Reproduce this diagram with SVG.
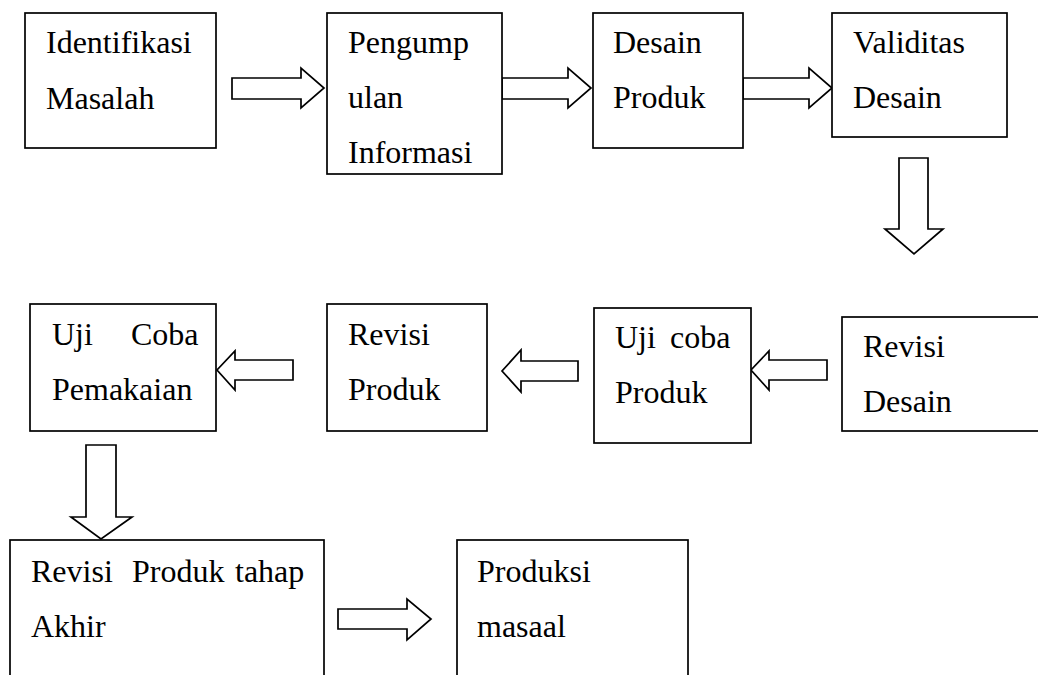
<svg xmlns="http://www.w3.org/2000/svg" width="1038" height="675" viewBox="0 0 1038 675">
<style>
.box{fill:#fff;stroke:#000;stroke-width:1.7}
.arr{fill:#fff;stroke:#000;stroke-width:1.7;stroke-linejoin:miter}
.t{font-family:'Liberation Serif','Times New Roman','DejaVu Serif',serif;font-size:32px;fill:#000}
</style>
<rect width="1038" height="675" fill="#fff"/>
<g id="connectors">
<polygon class="arr" points="232,78 301,78 301,68 324,88 301,108 301,99 232,99"/>
<polygon class="arr" points="502,78 568,78 568,68 591,88 568,108 568,99 502,99"/>
<polygon class="arr" points="743,78 809,78 809,68 832,88 809,108 809,99 743,99"/>
<polygon class="arr" points="899,158 928,158 928,229 943,229 914,254 885,229 899,229"/>
<polygon class="arr" points="827,360 827,380 769,380 769,390 751,370 769,351 769,360"/>
<polygon class="arr" points="578,361 578,381 521,381 521,392 502,371 521,350 521,361"/>
<polygon class="arr" points="293,360 293,380 235,380 235,390 217,370 235,351 235,360"/>
<polygon class="arr" points="86,445 116,445 116,517 132,517 101,539 71,517 86,517"/>
<polygon class="arr" points="338,609 407,609 407,599 431,619 407,640 407,629 338,629"/>
</g>
<g class="t" font-family="Liberation Serif, Times New Roman, serif" font-size="32">
<g id="n1"><rect class="box" x="25" y="13" width="191" height="135"/><text x="46" y="53">Identifikasi</text><text x="46" y="109">Masalah</text></g>
<g id="n2"><rect class="box" x="327" y="13" width="175" height="161"/><text x="348" y="53">Pengump</text><text x="348" y="108">ulan</text><text x="348" y="163">Informasi</text></g>
<g id="n3"><rect class="box" x="593" y="13" width="150" height="135"/><text x="613" y="53">Desain</text><text x="613" y="108">Produk</text></g>
<g id="n4"><rect class="box" x="832" y="13" width="175" height="124"/><text x="853" y="53">Validitas</text><text x="853" y="108">Desain</text></g>
<g id="n5"><rect class="box" x="842" y="317" width="200" height="114"/><text x="863" y="357">Revisi</text><text x="863" y="412">Desain</text></g>
<g id="n6"><rect class="box" x="594" y="308" width="157" height="135"/><text x="615" y="348">Uji</text><text x="670" y="348">coba</text><text x="615" y="403">Produk</text></g>
<g id="n7"><rect class="box" x="327" y="304" width="160" height="127"/><text x="348" y="345">Revisi</text><text x="348" y="400">Produk</text></g>
<g id="n8"><rect class="box" x="30" y="304" width="186" height="127"/><text x="52" y="345">Uji</text><text x="131" y="345">Coba</text><text x="52" y="400">Pemakaian</text></g>
<g id="n9"><rect class="box" x="10" y="540" width="314" height="145"/><text x="31" y="582">Revisi</text><text x="132" y="582">Produk</text><text x="235" y="582">tahap</text><text x="31" y="637">Akhir</text></g>
<g id="n10"><rect class="box" x="457" y="540" width="231" height="145"/><text x="477" y="582">Produksi</text><text x="477" y="637">masaal</text></g>
</g>
</svg>
